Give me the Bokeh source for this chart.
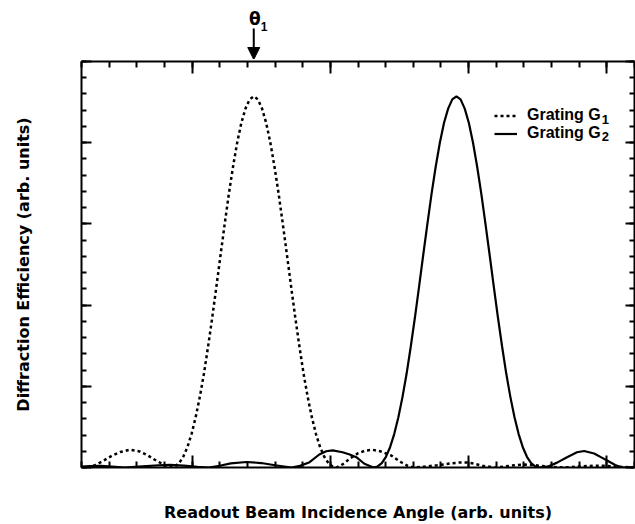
from bokeh.plotting import figure
from bokeh.layouts import column
from bokeh.models import (LinearAxis, FixedTicker, Range1d, Legend, LegendItem,
                          Label, Arrow, NormalHead, CustomJSTickFormatter)
from bokeh.core.properties import value
from bokeh.embed import file_html
from bokeh.resources import INLINE

# ---- data (arbitrary units) ----
g1_x = [0.0, 0.23, 0.5, 0.8, 1.1, 1.4, 1.75, 2.1, 2.4, 2.7, 3.0,
        3.23, 3.38, 3.53, 3.68, 3.83, 3.98, 4.13, 4.28, 4.43, 4.58, 4.73, 4.88, 5.03,
        5.18, 5.33, 5.48, 5.63, 5.78, 5.93, 6.08, 6.23, 6.38, 6.53, 6.68, 6.83, 6.98,
        7.13, 7.28, 7.43, 7.58, 7.73, 7.88, 8.03, 8.18, 8.33, 8.48, 8.63, 8.78, 8.93,
        9.08, 9.23,
        9.5, 9.7, 10.0, 10.25, 10.53, 10.8, 11.2, 11.56, 11.8, 12.0,
        12.4, 12.87, 13.36, 13.7, 13.95, 14.2, 14.5, 14.93,
        15.3, 15.7, 16.05, 16.4, 16.9, 17.4, 17.9, 18.5, 19.0, 19.5, 20.0]
g1_y = [0.006, 0.0, 0.03, 0.085, 0.145, 0.19, 0.218, 0.198, 0.148, 0.085, 0.03,
        0.0, 0.013, 0.054, 0.132, 0.25, 0.412, 0.62, 0.87, 1.16, 1.493, 1.85, 2.231, 2.62,
        3.001, 3.37, 3.704, 4.0, 4.242, 4.42, 4.533, 4.57, 4.533, 4.42, 4.242, 4.0, 3.704,
        3.37, 3.001, 2.62, 2.231, 1.85, 1.493, 1.16, 0.87, 0.62, 0.412, 0.25, 0.132, 0.054,
        0.013, 0.0,
        0.05, 0.11, 0.175, 0.207, 0.218, 0.2, 0.148, 0.065, 0.02, 0.0,
        0.01, 0.028, 0.05, 0.063, 0.062, 0.048, 0.022, 0.0,
        0.012, 0.03, 0.036, 0.028, 0.01, 0.0, 0.01, 0.022, 0.02, 0.008, 0.0]

g2_x = [0.0, 0.3, 0.7, 1.1, 1.56, 2.2, 2.8, 3.2, 3.7, 4.2, 4.6,
        5.0, 5.4, 5.97, 6.5, 7.0, 7.6,
        7.9, 8.25, 8.6, 8.85, 9.08, 9.44, 9.7, 9.94, 10.23,
        10.56, 10.71, 10.86, 11.01, 11.16, 11.31, 11.46, 11.61, 11.76, 11.91, 12.06,
        12.21, 12.36, 12.51, 12.66, 12.81, 12.96, 13.11, 13.26, 13.41, 13.56, 13.71,
        13.86, 14.01, 14.16, 14.31, 14.46, 14.61, 14.76, 14.91, 15.06, 15.21, 15.36,
        15.51, 15.66, 15.81, 15.96, 16.11, 16.26, 16.41, 16.56,
        16.9, 17.2, 17.56, 17.92, 18.18, 18.54, 18.8, 19.01, 19.3, 19.56, 19.8, 20.0]
g2_y = [0.01, 0.018, 0.02, 0.012, 0.0, 0.015, 0.028, 0.032, 0.024, 0.008, 0.0,
        0.022, 0.05, 0.068, 0.055, 0.028, 0.0,
        0.02, 0.065, 0.16, 0.2, 0.21, 0.188, 0.16, 0.127, 0.046,
        0.0, 0.013, 0.054, 0.132, 0.25, 0.412, 0.62, 0.87, 1.16, 1.493, 1.85,
        2.231, 2.62, 3.001, 3.37, 3.704, 4.0, 4.242, 4.42, 4.533, 4.57, 4.533,
        4.42, 4.242, 4.0, 3.704, 3.37, 3.001, 2.62, 2.231, 1.85, 1.493, 1.16,
        0.87, 0.62, 0.412, 0.25, 0.132, 0.054, 0.013, 0.0,
        0.015, 0.06, 0.127, 0.188, 0.203, 0.172, 0.125, 0.086, 0.03, 0.0, 0.003, 0.008]

x_major = [4, 9, 14, 19]
x_minor = list(range(0, 21))
y_major = [0, 1, 2, 3, 4, 5]
y_minor = [i / 5 for i in range(0, 26)]

theta1_x = 6.23          # position of the G1 peak marked by the arrow
theta_text = "\u03b8"
theta_sub = "1"
labels = ["Grating G", "Grating G"]
subscripts = ["1", "2"]
x_title = "Readout Beam Incidence Angle (arb. units)"
y_title = "Diffraction Efficiency (arb. units)"

xr = Range1d(0, 20)

# ---- top strip with the theta_1 marker ----
top_h = 59
t = figure(width=635, height=top_h, x_range=xr, y_range=Range1d(0, top_h),
           x_axis_type=None, y_axis_type=None, output_backend="svg",
           toolbar_location=None, min_border_left=81, min_border_right=1,
           min_border_top=0, min_border_bottom=0)
t.xgrid.visible = False
t.ygrid.visible = False
t.outline_line_color = None
t.add_layout(Arrow(end=NormalHead(size=12, fill_color="black", line_color="black"),
                   x_start=theta1_x, y_start=top_h - 28, x_end=theta1_x, y_end=0,
                   line_width=2, line_color="black"))
t.text(x=[theta1_x], y=[top_h - 18], text=[theta_text], x_offset=1,
       text_align="center", text_baseline="middle",
       text_font=value("DejaVu Sans"), text_font_style="bold",
       text_font_size="17px", text_color="black")
t.text(x=[theta1_x], y=[top_h - 26], text=[theta_sub], x_offset=7,
       text_align="left", text_baseline="alphabetic",
       text_font=value("Liberation Sans"), text_font_style="bold",
       text_font_size="12px", text_color="black")

# ---- main plot ----
p = figure(width=635, height=524 - top_h, x_range=xr, y_range=Range1d(0, 5),
           x_axis_type=None, y_axis_type=None, output_backend="svg",
           toolbar_location=None, min_border_left=81, min_border_right=1,
           min_border_top=2, min_border_bottom=57)
p.xgrid.visible = False
p.ygrid.visible = False
p.outline_line_color = None
p.background_fill_color = "white"
p.border_fill_color = "white"

blank = CustomJSTickFormatter(code="return ''")


def style(ax, maj, mnr):
    ax.formatter = blank
    ax.major_tick_in = maj
    ax.major_tick_out = 0
    ax.minor_tick_in = mnr
    ax.minor_tick_out = 0
    ax.major_label_standoff = 0
    ax.axis_line_width = 2
    ax.axis_line_color = "black"
    ax.major_tick_line_width = 2
    ax.minor_tick_line_width = 2
    ax.major_tick_line_color = "black"
    ax.minor_tick_line_color = "black"
    ax.axis_label_text_font = "DejaVu Sans"
    ax.axis_label_text_font_style = "bold"
    ax.axis_label_text_font_size = "16px"
    ax.axis_label_text_color = "black"


xt = FixedTicker(ticks=x_major, minor_ticks=x_minor)
yt = FixedTicker(ticks=y_major, minor_ticks=y_minor)

bottom = LinearAxis(ticker=xt, axis_label=x_title)
style(bottom, 12, 6)
bottom.axis_label_standoff = 35
top = LinearAxis(ticker=xt)
style(top, 12, 6)
left = LinearAxis(ticker=yt, axis_label=y_title)
style(left, 10, 5)
left.axis_label_standoff = 49
right = LinearAxis(ticker=yt)
style(right, 9, 5)

p.add_layout(bottom, "below")
p.add_layout(top, "above")
p.add_layout(left, "left")
p.add_layout(right, "right")

r1 = p.line(g1_x, g1_y, line_color="black", line_width=2.5, line_dash="3 3")
r2 = p.line(g2_x, g2_y, line_color="black", line_width=2.2)

legend = Legend(items=[LegendItem(label=labels[0], renderers=[r1]),
                       LegendItem(label=labels[1], renderers=[r2])],
                location=(413, 325), border_line_color=None,
                background_fill_alpha=0, padding=0, margin=0, spacing=0,
                glyph_width=23, glyph_height=17, label_height=17,
                label_standoff=10, label_text_font="Liberation Sans",
                label_text_font_style="bold", label_text_font_size="16px",
                label_text_color="black", label_text_baseline="middle")
p.add_layout(legend)

for s, yy in zip(subscripts, [4.286, 4.076]):
    p.add_layout(Label(x=18.82, y=yy, text=s, text_align="left",
                       text_baseline="middle", text_font="Liberation Sans",
                       text_font_style="bold", text_font_size="13px",
                       text_color="black"))

layout = column(t, p, spacing=0)
open("out.html", "w").write(file_html(layout, INLINE))
